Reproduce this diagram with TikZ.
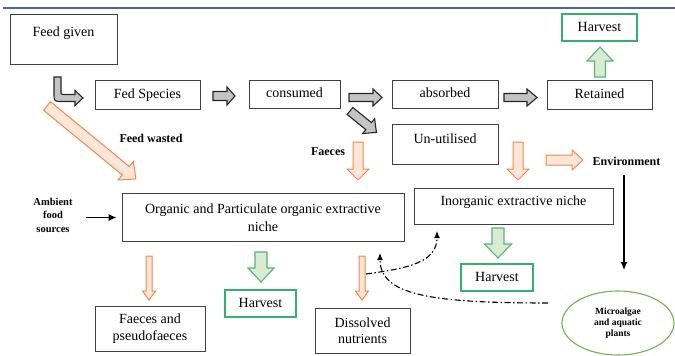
\documentclass[tikz,border=0pt]{standalone}
\usepackage{fontspec}
\setmainfont{Liberation Serif}
\usetikzlibrary{arrows.meta,shapes.geometric}
\definecolor{topblue}{RGB}{72,102,172}
\definecolor{orl}{RGB}{240,136,74}
\definecolor{orf}{RGB}{252,230,216}
\definecolor{grl}{RGB}{84,184,112}
\definecolor{grf}{RGB}{218,234,212}
\definecolor{hvg}{RGB}{52,176,110}
\definecolor{elg}{RGB}{120,176,80}
\definecolor{gyf}{RGB}{196,196,196}
\tikzset{
  boxbase/.style={draw=black!75, line width=0.8pt, inner sep=0pt, align=center,
    font=\fontsize{14}{17.5}\selectfont},
  box/.style={boxbase, text height=9.5pt, text depth=2.5pt},
  hbox/.style={box, draw=hvg, line width=1.3pt},
  lbl/.style={font=\bfseries\fontsize{12}{14}\selectfont, inner sep=1pt},
  ga/.style={draw=black!85, fill=gyf, line width=1.1pt, line join=miter},
  oa/.style={draw=orl, fill=orf, line width=1pt},
  gra/.style={draw=grl, fill=grf, line width=1.1pt},
  conn/.style={-{Latex[length=8pt,width=7pt]}, line width=1.2pt, black},
  dd/.style={-{Latex[length=7pt,width=6pt]}, line width=1.1pt, black,
    dash pattern=on 6pt off 2.5pt on 1.5pt off 2.5pt},
  pics/blk/.style args={#1/#2/#3/#4}{code={%
    \path[pic actions] (0,-#2) -- ({#1-#4},-#2) -- ({#1-#4},-#3) -- (#1,0)
      -- ({#1-#4},#3) -- ({#1-#4},#2) -- (0,#2) -- cycle;}}
}
\begin{document}
\begin{tikzpicture}[x=1pt,y=-1pt]
\useasboundingbox (0,0) rectangle (675,356);
\draw[topblue, line width=1.2pt] (3,8) -- (675,8);

% boxes
\node[box, minimum width=107, minimum height=50, text depth=15.5pt] (feed) at (63.5,39) {Feed given};
\node[box, minimum width=105, minimum height=29] (fed) at (147.5,94.5) {Fed Species};
\node[box, minimum width=91, minimum height=28] (cons) at (294.5,94) {consumed};
\node[box, minimum width=106, minimum height=28] (abs) at (445,94) {absorbed};
\node[box, minimum width=105, minimum height=29] (ret) at (599.5,94.5) {Retained};
\node[hbox, minimum width=75, minimum height=27] (hv1) at (599.5,27.5) {Harvest};
\node[box, minimum width=106, minimum height=40, text depth=11.5pt] (unu) at (445,144) {Un-utilised};
\node[boxbase, minimum width=282, minimum height=48] (org) at (263,217.5)
  {Organic and Particulate organic extractive\\niche};
\node[box, minimum width=199, minimum height=36, text depth=11.5pt] (inorg) at (513.5,206) {Inorganic extractive niche};
\node[hbox, minimum width=72, minimum height=27] (hv3) at (497,277.5) {Harvest};
\node[boxbase, minimum width=110, minimum height=45] (fpf) at (150,328.5) {Faeces and\\pseudofaeces};
\node[hbox, minimum width=71, minimum height=27] (hv2) at (260.5,303.5) {Harvest};
\node[boxbase, minimum width=95, minimum height=45, font=\fontsize{14}{16.5}\selectfont] (dis) at (362.5,330.5) {Dissolved\\nutrients};
\node[ellipse, draw=elg, line width=1.1pt, minimum width=112, minimum height=64, inner sep=0pt, align=center,
  font=\bfseries\fontsize{9.5}{11}\selectfont] (micro) at (618,323) {Microalgae\\and aquatic\\plants};

% labels
\node[lbl] (fw) at (151,138) {Feed wasted};
\node[lbl] (fae) at (328,151.5) {Faeces};
\node[lbl] (env) at (626.5,161) {Environment};
\node[lbl, align=center, font=\bfseries\fontsize{10.5}{13.5}\selectfont] (amb) at (53,215) {Ambient\\food\\sources};

% bent gray arrow from Feed given
\path[ga] (54,77) -- (54,93) .. controls (54,101.5) .. (62,101.5) -- (75,101.5) -- (75,105.5)
  -- (83,98) -- (75,90.5) -- (75,94.5) -- (64,94.5) .. controls (61,94.5) .. (61,91) -- (61,77) -- cycle;

% gray block arrows
\pic[ga] (a1) at (213,96) {blk=22/4.5/9/8};
\pic[ga] (a2) at (349,97.5) {blk=33/4/8.5/9};
\pic[ga] (a3) at (504,97.5) {blk=33/4/8.5/10};
\pic[ga, rotate=-39] (a4) at (350,111) {blk=34/4.5/9.5/10};

% orange block arrows
\pic[oa, rotate=-39.4] (o1) at (47,106) {blk=115/5.5/12/13};
\pic[oa, rotate=-90] (o2) at (358,142) {blk=38/5/11/11};
\pic[oa, rotate=-90] (o3) at (518,142) {blk=38/5/11/11};
\pic[oa] (o4) at (546,160) {blk=37/5/10/11};
\pic[oa, rotate=-90] (o5) at (149,256) {blk=44/3/6.5/9};
\pic[oa, rotate=-90] (o6) at (362,256) {blk=44/3/6.5/9};

% green block arrows
\pic[gra, rotate=90] (g1) at (600,77) {blk=30/5.5/13/14};
\pic[gra, rotate=-90] (g2) at (261,252) {blk=30/6/13/14};
\pic[gra, rotate=-90] (g3) at (498,228) {blk=30/6/13.5/14};

% connectors
\draw[conn] ([xshift=12pt]amb.east |- org.west) -- ([xshift=-5pt]org.west);
\coordinate (envend) at (624,270);
\draw[conn] (envend |- env.south) ++(0,9) -- (envend);

\coordinate (c1s) at (366,274);
\coordinate (c1e) at (437,231);
\draw[dd] (c1s) .. controls (410,268) and (437,262) .. (c1e);
\coordinate (c2s) at (548,303);
\coordinate (c2e) at (380,253);
\draw[dd] (c2s) .. controls (430,303) and (380,295) .. (c2e);
\end{tikzpicture}
\end{document}
